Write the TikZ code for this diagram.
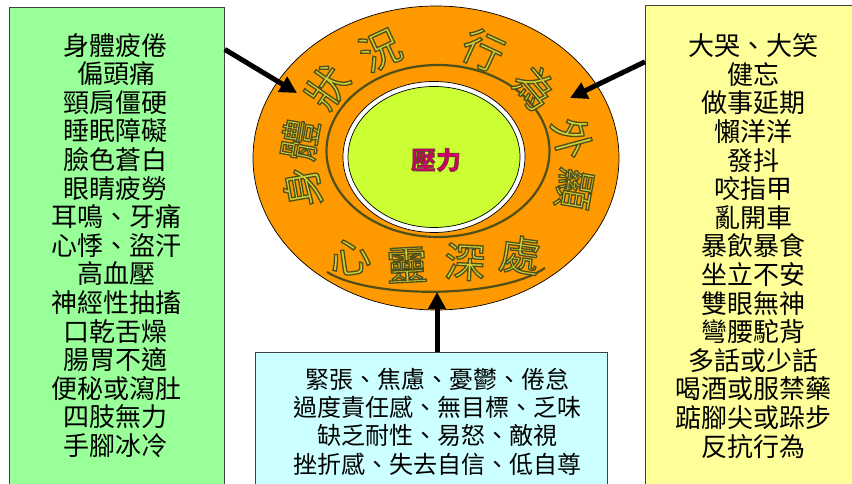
\documentclass[tikz,border=0pt]{standalone}
\usepackage{fontspec}
\newfontfamily\cjk{Noto Sans CJK TC}
\usetikzlibrary{arrows.meta,positioning,calc,shapes.geometric}
\definecolor{bodygreen}{HTML}{99FF99}
\definecolor{actyellow}{HTML}{FFFF99}
\definecolor{mindcyan}{HTML}{CCFFFF}
\definecolor{ringorange}{HTML}{FF9900}
\definecolor{coregreen}{HTML}{CCFF33}
\definecolor{stressred}{HTML}{CC0066}
\definecolor{wordgold}{HTML}{CFCF3A}
\definecolor{wordline}{HTML}{4F4F1A}
% outlined glyphs (fill + stroke)
\newcommand{\wordart}[2]{\special{pdf:literal direct 0.31 0.31 0.1 RG #1 w 2 Tr}#2\special{pdf:literal direct 0 Tr}}
\tikzset{
    stress/.style={-{Triangle[length=17pt, width=17pt]}, line width=5pt, black},
    panel/.style={draw=black!75, line width=0.8pt, anchor=north west, inner sep=0pt},
    listtext/.style={align=center, inner sep=0pt, font=\cjk\fontsize{26}{28.6}\selectfont},
    oval/.style={ellipse, draw=black, line width=0.7pt, inner sep=0pt},
    ringword/.style={inner sep=0pt, text=wordgold, font=\cjk\fontsize{41}{41}\selectfont}
}

\begin{document}
\begin{tikzpicture}[x=1pt, y=1pt]
            \useasboundingbox (0,0) rectangle (852,484);
            \clip (0,0) rectangle (852,484);
            \fill[white] (0,0) rectangle (852,484);

            % Symptom panels
            \node[panel, fill=bodygreen, minimum width=215pt, minimum height=490pt] (body) at (9,477) {};
            \node[panel, fill=actyellow, minimum width=217pt, minimum height=490pt] (behave) at (645,479) {};
            \node[panel, fill=mindcyan, minimum width=352pt, minimum height=150pt] (mind) at (255,132) {};

            \node[listtext] (bodylist) at (116,238.5) {身體疲倦\\偏頭痛\\頸肩僵硬\\睡眠障礙\\臉色蒼白\\眼睛疲勞\\耳鳴、牙痛\\心悸、盜汗\\高血壓\\神經性抽搐\\口乾舌燥\\腸胃不適\\便秘或瀉肚\\四肢無力\\手腳冰冷};
            \node[listtext] (behavelist) at (753.5,238) {大哭、大笑\\健忘\\做事延期\\懶洋洋\\發抖\\咬指甲\\亂開車\\暴飲暴食\\坐立不安\\雙眼無神\\彎腰駝背\\多話或少話\\喝酒或服禁藥\\踮腳尖或跺步\\反抗行為};
            \node[listtext, font=\cjk\fontsize{24}{28.3}\selectfont] (mindlist) at (437.5,62.5) {緊張、焦慮、憂鬱、倦怠\\過度責任感、無目標、乏味\\缺乏耐性、易怒、敵視\\挫折感、失去自信、低自尊};

            % Stress wheel
            \node[oval, fill=ringorange, minimum width=366pt, minimum height=304pt] (ring) at (436,326) {};
            \draw[wordline, line width=2.2pt] (438,333) ellipse [x radius=111.5, y radius=86];
            \draw[wordline, line width=2.2pt] (327,212) .. controls (370,185) and (500,185) .. (545,216);
            \node[oval, fill=white, minimum width=182pt, minimum height=151pt] (rim) at (434,327) {};
            \node[oval, fill=coregreen, minimum width=172pt, minimum height=141pt] (core) at (rim.center) {};
            \node[inner sep=0pt, text=stressred, font=\cjk\bfseries\fontsize{25}{25}\selectfont] (coretext) at (436,324) {\wordart{0.5}{壓力}};

            \foreach \px/\py/\rot/\ch [count=\i] in {302/297/100/身, 300/344/80/體, 327/397/55/狀, 380/434/25/況, 483/434/-25/行, 535/396/-50/為, 572/346/-75/外, 574/295/-100/顯, 350/227/8/心, 407/219/3/靈, 465/222/-3/深, 520/229/-8/處}
                \node[ringword, rotate=\rot] (w\i) at (\px,\py) {\wordart{1.3}{\ch}};

            % Arrows into the wheel
            \coordinate (bodytip) at (297,391);
            \coordinate (behavetip) at (570,386);
            \coordinate (mindtip) at (437,192);
            \draw[stress] (body.62.5) -- (bodytip);
            \draw[stress] (behave.120) -- (behavetip);
            \draw[stress] (mind.north -| mindtip) -- (mindtip);
\end{tikzpicture}
\end{document}
